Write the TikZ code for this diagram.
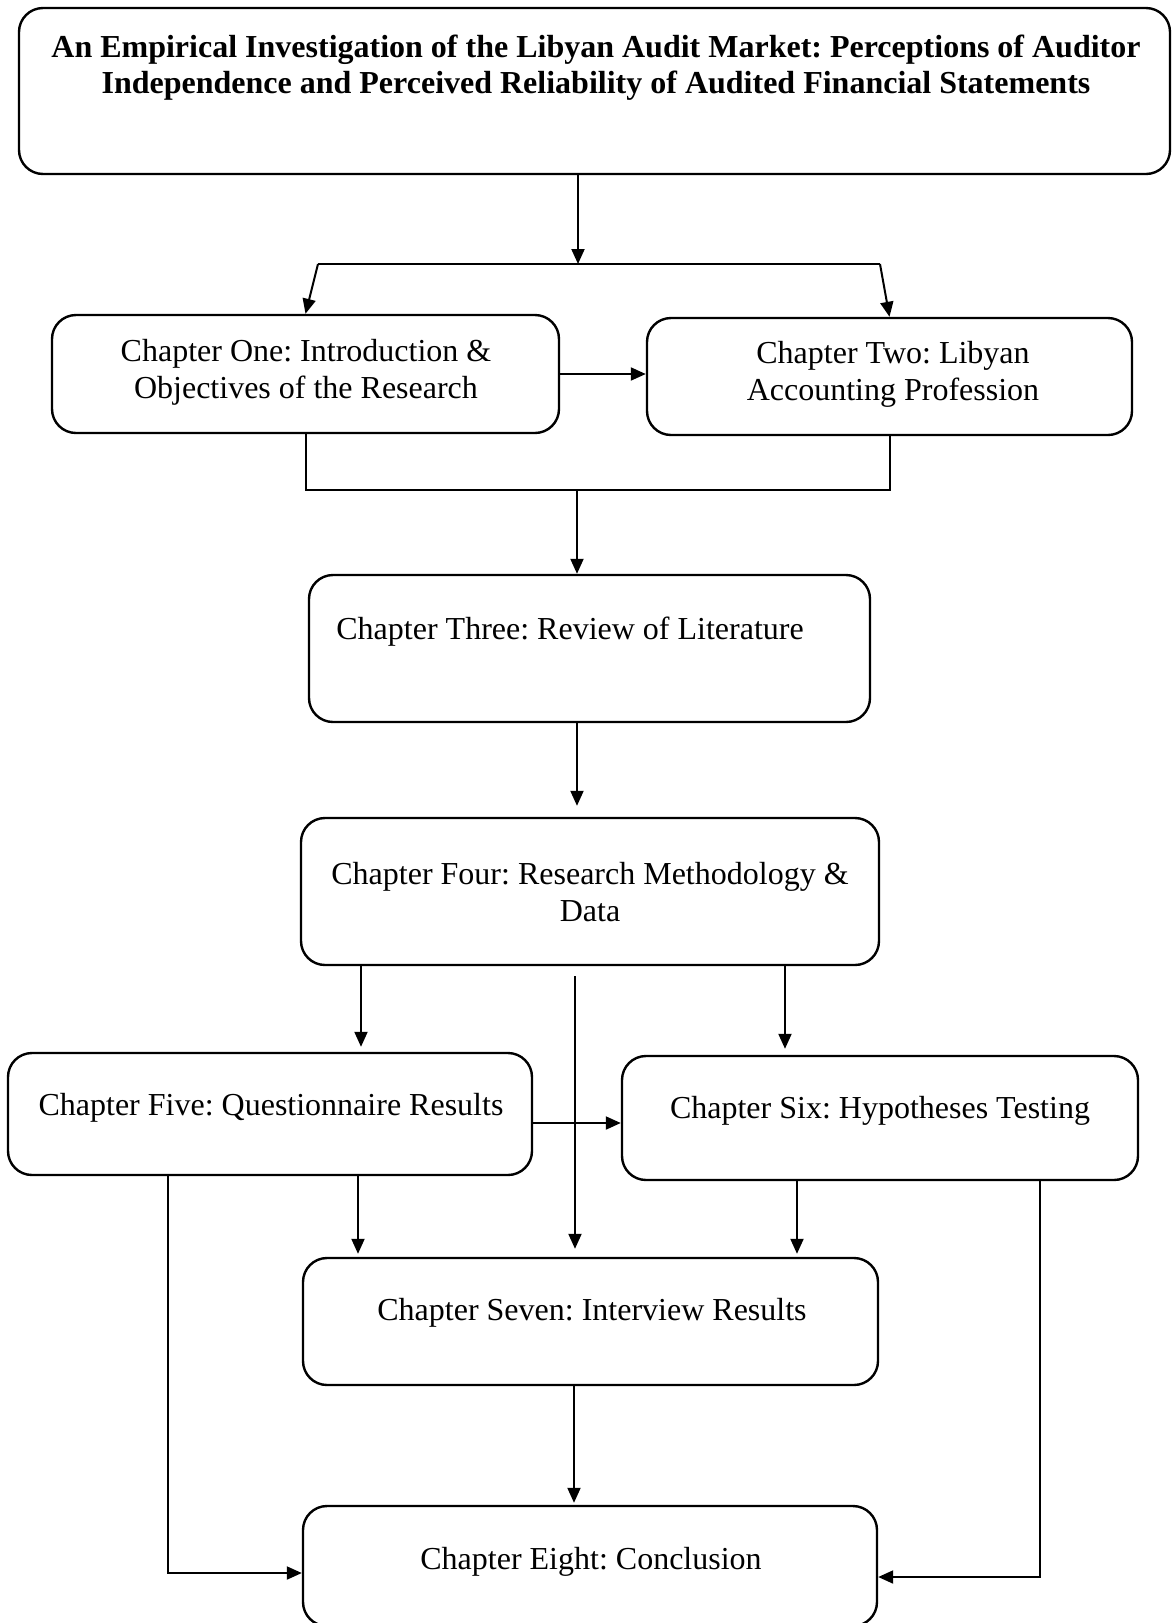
\documentclass[tikz,border=0pt]{standalone}
\usepackage{fontspec}
\setmainfont{Liberation Serif}
\usepackage{tikz}
\usetikzlibrary{arrows.meta, positioning, calc}
\frenchspacing
\tikzset{
	chapbox/.style={rectangle, rounded corners=12pt, draw=black,
		line width=1.2pt, inner sep=0pt},
	chaptext/.style={font=\fontsize{16}{18.5}\selectfont, align=center,
		inner sep=0pt},
	titletext/.style={font=\fontsize{16}{18}\selectfont\bfseries,
		align=center, inner sep=0pt},
	myarrow/.style={-{Triangle[length=7.5pt,width=6.5pt]}, line width=1pt},
	myline/.style={line width=1pt}
}
\begin{document}
\begin{tikzpicture}[x=0.5pt, y=-0.5pt]
	\useasboundingbox (0,0) rectangle (1173,1623);
	
	%% boxes
	\node[chapbox, minimum width=575.5pt, minimum height=83pt] (title) at (594.5,91) {};
	\node[titletext] (titleT) at (596,68) {An Empirical Investigation of the Libyan Audit Market: Perceptions of Auditor\\
		Independence and Perceived Reliability of Audited Financial Statements};
	
	\node[chapbox, minimum width=253.5pt, minimum height=59pt] (ch1) at (305.5,374) {};
	\node[chaptext] (ch1T) at (306,372) {Chapter One: Introduction \&\\Objectives of the Research};
	
	\node[chapbox, minimum width=242.5pt, minimum height=58.5pt] (ch2) at (889.5,376.5) {};
	\node[chaptext] (ch2T) at (893,374) {Chapter Two: Libyan\\Accounting Profession};
	
	\node[chapbox, minimum width=280.5pt, minimum height=73.5pt] (ch3) at (589.5,648.5) {};
	\node[chaptext, anchor=west] (ch3T) at (336,632) {Chapter Three: Review of Literature};
	
	\node[chapbox, minimum width=289pt, minimum height=73.5pt] (ch4) at (590,891.5) {};
	\node[chaptext] (ch4T) at (590,892) {Chapter Four: Research Methodology \&\\Data};
	
	\node[chapbox, minimum width=262pt, minimum height=61pt] (ch5) at (270,1114) {};
	\node[chaptext] (ch5T) at (271,1108) {Chapter Five: Questionnaire Results};
	
	\node[chapbox, minimum width=258pt, minimum height=62pt] (ch6) at (880,1118) {};
	\node[chaptext] (ch6T) at (880,1111) {Chapter Six: Hypotheses Testing};
	
	\node[chapbox, minimum width=287.5pt, minimum height=63.5pt] (ch7) at (590.5,1321.5) {};
	\node[chaptext] (ch7T) at (592,1313) {Chapter Seven: Interview Results};
	
	\node[chapbox, minimum width=287pt, minimum height=60pt] (ch8) at (590,1566) {};
	\node[chaptext] (ch8T) at (591,1562) {Chapter Eight: Conclusion};
	
	%% helper points
	\coordinate (split) at (578,264);
	\coordinate (splitL) at (318,264);
	\coordinate (splitR) at (880,264);
	\coordinate (merge) at (577,490);
	\coordinate (xa) at (361,0);
	\coordinate (xb) at (575,0);
	\coordinate (xc) at (785,0);
	\coordinate (xd) at (358,0);
	\coordinate (xe) at (797,0);
	\coordinate (xf) at (168,0);
	\coordinate (xg) at (1040,0);
	\coordinate (xh) at (574,0);
	\coordinate (ya) at (0,1123);
	\coordinate (yb) at (0,1573);
	\coordinate (yc) at (0,1577);
	
	%% title -> chapters one and two
	\draw[myarrow] (title.south -| split) -- (split);
	\draw[myline] (splitL) -- (splitR);
	\draw[myarrow] (splitL) -- (ch1.north);
	\draw[myarrow] (splitR) -- (ch2.north);
	\draw[myarrow] (ch1.east) -- (ch1.east -| ch2.west);
	
	%% one and two -> three
	\draw[myline] (ch1.south) |- (merge) -| (ch2.south);
	\draw[myarrow] (merge) -- (ch3.north -| merge);
	\draw[myarrow, shorten >=5.5pt] (ch3.south -| merge) -- (ch4.north -| merge);
	
	%% four -> five, six, seven
	\draw[myarrow, shorten >=2.5pt] (ch4.south -| xa) -- (ch5.north -| xa);
	\draw[myarrow, shorten >=3pt] (ch4.south -| xc) -- (ch6.north -| xc);
	\draw[myarrow, shorten <=5pt, shorten >=4pt] (ch4.south -| xb) -- (ch7.north -| xb);
	\draw[myarrow] (ch5.east |- ya) -- (ch6.west |- ya);
	
	%% five, six -> seven
	\draw[myarrow, shorten >=1.5pt] (ch5.south -| xd) -- (ch7.north -| xd);
	\draw[myarrow, shorten >=1.5pt] (ch6.south -| xe) -- (ch7.north -| xe);
	
	%% -> eight
	\draw[myarrow, shorten >=1pt] (ch7.south -| xh) -- (ch8.north -| xh);
	\draw[myarrow] (ch5.south -| xf) |- (ch8.west |- yb);
	\draw[myarrow] (ch6.south -| xg) |- (ch8.east |- yc);
	
\end{tikzpicture}
\end{document}
